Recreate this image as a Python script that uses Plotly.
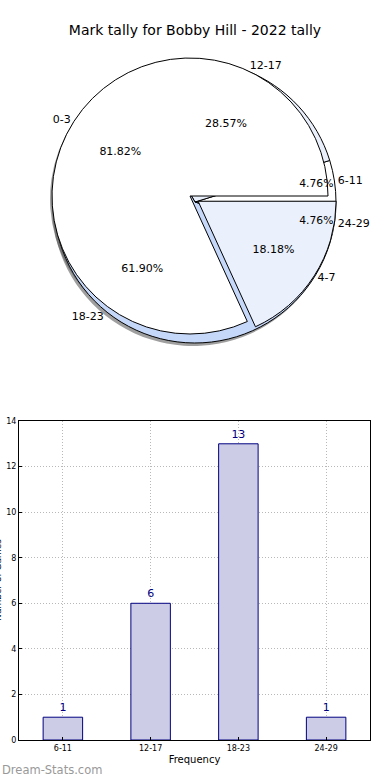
import plotly.graph_objects as go

# ---------------- data ----------------
title_text = "Mark tally for Bobby Hill - 2022 tally"
pie1_labels = ["0-3", "4-7"]
pie1_values = [18, 4]
pie2_labels = ["6-11", "12-17", "18-23", "24-29"]
pie2_values = [1, 6, 13, 1]
bar_categories = ["6-11", "12-17", "18-23", "24-29"]
bar_values = [1, 6, 13, 1]
y_ticks = [0, 2, 4, 6, 8, 10, 12, 14]

# ---------------- layout helpers (pixels -> paper) ----------------
W, H = 390, 780


def pie_domain(cx, cy, r):
    return dict(x=[(cx - r) / W, (cx + r) / W], y=[1 - (cy + r) / H, 1 - (cy - r) / H])


def start_at_three(values):
    # Plotly's counterclockwise pies end the first slice at `rotation`;
    # shift so the first slice starts at 3 o'clock (like the original chart).
    return 90 - 360.0 * values[0] / sum(values)


R = 138
PULL = 0.07
C1 = (190, 196)
C2 = (195, 202)
dom1 = pie_domain(C1[0], C1[1], R * (1 + PULL))
dom2 = pie_domain(C2[0], C2[1], R + 3)
dom1s = pie_domain(C1[0] - 2, C1[1] + 3, R * (1 + PULL))
dom2s = pie_domain(C2[0] - 2, C2[1] + 3, R + 3)

pie1_colors = ["#ffffff", "#eaf0fc"]
pie2_colors = ["#ffffff", "#e9effb", "#c6d8fa", "#dfe7f8"]
pull1 = [0, PULL]
clear1 = ["rgba(0,0,0,0)"] * len(pie1_values)
clear2 = ["rgba(0,0,0,0)"] * len(pie2_values)
font = "DejaVu Sans, Verdana, sans-serif"
c1 = dict(sort=False, direction="counterclockwise", rotation=start_at_three(pie1_values),
          showlegend=False, hoverinfo="skip")
c2 = dict(sort=False, direction="counterclockwise", rotation=start_at_three(pie2_values),
          showlegend=False, hoverinfo="skip")
shadow = "rgba(80,80,80,0.55)"
pct_font = dict(family=font, size=11, color="black")

fig = go.Figure()

# shadows
fig.add_trace(go.Pie(labels=pie1_labels, values=pie1_values, domain=dom1s, pull=pull1,
                     marker=dict(colors=[shadow] * 2, line=dict(width=0)),
                     textinfo="none", **c1))
fig.add_trace(go.Pie(labels=pie2_labels, values=pie2_values, domain=dom2s,
                     marker=dict(colors=[shadow] * 4, line=dict(width=0)),
                     textinfo="none", **c2))
# pie 2 (underneath)
fig.add_trace(go.Pie(labels=pie2_labels, values=pie2_values, domain=dom2,
                     marker=dict(colors=pie2_colors, line=dict(color="black", width=1)),
                     textinfo="none", **c2))
# pie 1 (on top)
fig.add_trace(go.Pie(labels=pie1_labels, values=pie1_values, domain=dom1, pull=pull1,
                     marker=dict(colors=pie1_colors, line=dict(color="black", width=1)),
                     textinfo="none", **c1))
# transparent overlays carrying the texts (hole only steers where Plotly puts the text)
fig.add_trace(go.Pie(labels=pie1_labels, values=pie1_values, domain=dom1, pull=pull1, hole=0.2,
                     marker=dict(colors=clear1, line=dict(width=0)),
                     texttemplate="%{percent:.2%}", textposition="inside",
                     insidetextorientation="horizontal", textfont=pct_font, **c1))
fig.add_trace(go.Pie(labels=pie2_labels, values=pie2_values, domain=dom2, hole=0.2,
                     marker=dict(colors=clear2, line=dict(width=0)),
                     texttemplate="%{percent:.2%}", textposition="inside",
                     insidetextorientation="horizontal", textfont=pct_font, **c2))
fig.add_trace(go.Pie(labels=pie2_labels, values=pie2_values, domain=dom2,
                     marker=dict(colors=clear2, line=dict(width=0)),
                     texttemplate="%{label}", textposition="outside", textfont=pct_font, **c2))
fig.add_trace(go.Pie(labels=pie1_labels, values=pie1_values, domain=dom1, pull=pull1,
                     marker=dict(colors=clear1, line=dict(width=0)),
                     texttemplate="%{label}", textposition="outside", textfont=pct_font, **c1))

# bar chart
fig.add_trace(go.Bar(x=bar_categories, y=bar_values, width=0.45,
                     marker=dict(color="#ccccE6", line=dict(color="#000080", width=1)),
                     text=bar_values, textposition="outside", cliponaxis=False,
                     textfont=dict(family=font, size=11, color="#000080"),
                     showlegend=False, hoverinfo="skip"))

grid_style = dict(showgrid=True, gridcolor="#b8b8b8", griddash="1px,2px", gridwidth=1)

fig.update_layout(
    width=W, height=H,
    margin=dict(l=0, r=0, t=0, b=0),
    paper_bgcolor="white", plot_bgcolor="white",
    font=dict(family=font, color="black"),
    title=dict(text=title_text, x=0.5, xanchor="center", y=1 - 30 / H, yanchor="middle",
               font=dict(family=font, size=14, color="black")),
    xaxis=dict(domain=[19 / W, 370 / W], type="category", range=[-0.5, 3.5],
               automargin=False,
               showline=True, mirror=True, linecolor="black", linewidth=1,
               ticks="inside", ticklen=3, tickcolor="black",
               tickfont=dict(family=font, size=8, color="black"),
               title=dict(text="Frequency", font=dict(family=font, size=10, color="black"), standoff=4),
               anchor="y", zeroline=False, **grid_style),
    yaxis=dict(domain=[1 - 740 / H, 1 - 421 / H], range=[0, 14], tickvals=y_ticks,
               automargin=False,
               showline=True, mirror=True, linecolor="black", linewidth=1,
               ticks="inside", ticklen=3, tickcolor="black",
               tickfont=dict(family=font, size=8, color="black"),
               anchor="x", zeroline=False, **grid_style),
    annotations=[
        dict(text="Dream-Stats.com", xref="paper", yref="paper", x=0, y=1 - 770 / H,
             xanchor="left", yanchor="middle", showarrow=False,
             font=dict(family=font, size=11.5, color="#999999")),
        dict(text="Number of Games", xref="paper", yref="paper", x=-2 / W, y=1 - 580 / H,
             xanchor="center", yanchor="middle", textangle=-90, showarrow=False,
             font=dict(family=font, size=9, color="black")),
    ],
)

fig.write_html("out.html", config={"displayModeBar": False},
               post_script="document.body.style.margin='0';document.body.style.overflow='hidden';")
